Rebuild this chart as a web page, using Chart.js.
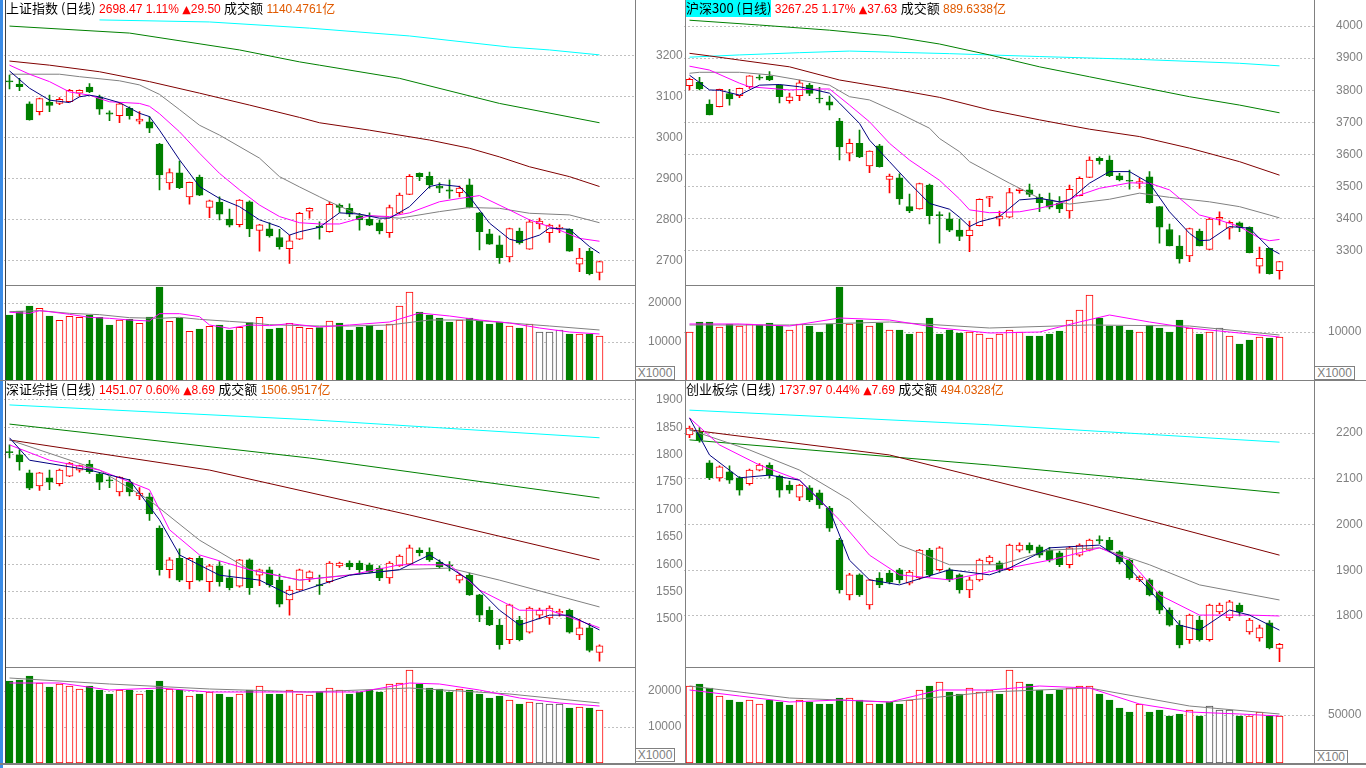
<!DOCTYPE html>
<html>
<head>
<meta charset="utf-8">
<script src="https://cdn.jsdelivr.net/npm/chart.js@4.4.1/dist/chart.umd.min.js"></script>
<style>
  html, body { margin: 0; padding: 0; background: #fff; overflow: hidden; }
  #stage { position: relative; width: 1366px; height: 768px; background: #fff; }
  canvas { position: absolute; }
  .title { position: absolute; font: 12px "Liberation Sans", "Noto Sans CJK SC", sans-serif; white-space: nowrap; line-height: 16px; z-index: 5; color: #000; }
  .title .cn { font-family: "Noto Sans CJK SC", sans-serif; font-size: 13px; }
  .title .tri { font-family: "DejaVu Sans", sans-serif; font-size: 11px; }
  .title .red { color: #ff0000; }
  .title .org { color: #e05a00; }
  .title .hl { background: #00ffff; }
  .sep { position: absolute; background: #808080; z-index: 4; }
  .unit { position: absolute; border: 1px solid #808080; color: #808080; font: 12px "Liberation Sans", sans-serif; line-height: 12px; text-align: center; box-sizing: border-box; z-index: 5; background: #fff; }
</style>
</head>
<body>
<div id="stage"></div>
<script>
// ---- data: 60 trading days per index, 3 empty slots on the right ----
const DAYS = Array.from({ length: 63 }, (_, i) => i + 1);

// 上证指数
const shO = [3138,3130,3082,3063,3086,3083,3087,3108,3123,3099,3060,3053,3071,3040,3038,2984,2890,2914,2856,2904,2830,2843,2802,2788,2844,2774,2778,2757,2730,2753,2821,2784,2771,2836,2828,2810,2802,2793,2769,2816,2862,2913,2906,2882,2873,2866,2885,2817,2766,2739,2710,2773,2729,2790,2769,2779,2777,2692,2724,2672];
const shC = [3135,3124,3043,3095,3078,3093,3115,3115,3111,3069,3057,3082,3053,3045,3023,2909,2915,2878,2891,2860,2846,2814,2787,2848,2778,2788,2761,2735,2749,2816,2828,2781,2838,2830,2814,2800,2787,2773,2830,2860,2906,2905,2885,2877,2870,2877,2830,2771,2741,2708,2779,2744,2795,2797,2787,2782,2724,2707,2669,2698.47];
const shH = [3152,3144,3087,3096,3103,3097,3117,3116,3131,3103,3065,3083,3075,3063,3051,2986,2924,2943,2892,2909,2848,2856,2826,2849,2846,2789,2793,2777,2763,2818,2829,2795,2844,2839,2839,2816,2817,2800,2836,2865,2910,2914,2916,2890,2897,2882,2899,2818,2777,2761,2780,2780,2800,2804,2790,2788,2778,2731,2731,2700];
const shL = [3118,3114,3042,3055,3063,3080,3087,3100,3109,3056,3041,3036,3045,3033,3012,2873,2874,2876,2838,2859,2805,2800,2783,2783,2759,2724,2758,2729,2694,2752,2804,2753,2770,2818,2808,2775,2786,2766,2757,2815,2861,2895,2877,2866,2852,2856,2829,2727,2740,2694,2698,2741,2728,2778,2745,2769,2723,2674,2666,2654];
const shVol = [16923,17949,19230,18632,16667,15556,16581,16325,16923,16325,14359,15641,15812,14786,16410,24100,15299,16154,12735,13333,14017,14359,13077,13761,14957,16325,13333,13590,14786,13761,13504,13675,15385,14872,13077,13846,14359,13077,14615,19231,22821,17692,16923,16154,15128,15641,16154,15385,14615,15128,14103,13590,14615,12564,12564,13077,12051,12051,12051,11538];
const shVolPlain = [53, 54, 55];
const shMa5 = [[0,3162],[2,3120],[4,3091],[6,3085],[7,3099],[8,3103],[9,3099],[11,3085],[13,3059],[14,3051],[15,3018],[17,2946],[19,2881],[21,2852],[23,2832],[25,2800],[27,2783],[28,2763],[29,2771],[31,2782],[33,2817],[35,2814],[37,2804],[38,2804],[40,2832],[42,2881],[43,2886],[45,2881],[46,2856],[48,2792],[50,2753],[51,2747],[53,2763],[54,2780],[56,2777],[58,2735],[59,2719]];
const shMa10 = [[0,3176],[2,3154],[4,3136],[6,3111],[8,3103],[10,3087],[13,3083],[14,3076],[15,3058],[17,3014],[19,2962],[21,2913],[23,2873],[25,2836],[27,2808],[29,2793],[31,2790],[33,2790],[36,2810],[38,2808],[40,2817],[43,2844],[45,2852],[47,2859],[50,2824],[52,2800],[55,2775],[57,2755],[59,2748]];
const shMa20 = [[0,3154],[5,3154],[7,3148],[11,3138],[13,3128],[15,3105],[17,3068],[19,3030],[21,3006],[25,2950],[27,2905],[29,2880],[31,2856],[32,2844],[35,2812],[39,2804],[43,2820],[46,2830],[49,2828],[52,2816],[56,2812],[59,2793]];
const shMa60 = [[0,3186],[4,3176],[9,3160],[14,3136],[19,3108],[24,3079],[29,3049],[31,3036],[36,3018],[42,2994],[46,2974],[49,2953],[52,2929],[56,2905],[59,2881]];
const shMa120 = [[0,3271],[12,3254],[23,3213],[29,3184],[31,3176],[39,3144],[49,3083],[59,3036]];
const shMa250 = [[9,3286],[20,3281],[30,3266],[40,3247],[50,3220],[54,3213],[59,3201]];
const shVolMa5 = [[0,17615],[2,17350],[3,18034],[4,17778],[6,17094],[8,16325],[10,16068],[12,15641],[14,15385],[15,17265],[17,17265],[19,16496],[20,14359],[22,13504],[24,14359],[26,14188],[28,14701],[31,13846],[34,14359],[38,15128],[41,17436],[44,16667],[47,15641],[50,14872],[53,13590],[56,12564],[59,12051]];
const shVolMa10 = [[0,17778],[3,18034],[6,17350],[9,17009],[12,16239],[15,16068],[17,16325],[19,15812],[22,15299],[24,14957],[26,14444],[29,14188],[31,14103],[34,14103],[38,14359],[42,15641],[46,15641],[50,14872],[54,14103],[59,13077]];

// 沪深300
const hsO = [3814,3825,3757,3749,3790,3783,3811,3841,3844,3816,3768,3783,3816,3776,3764,3704,3604,3635,3565,3627,3523,3528,3438,3431,3505,3413,3400,3365,3348,3379,3464,3399,3405,3488,3490,3467,3459,3448,3425,3472,3529,3588,3583,3534,3520,3511,3531,3438,3367,3315,3285,3362,3305,3399,3371,3388,3374,3253,3308,3239];
const hsC = [3834,3804,3723,3803,3773,3806,3845,3838,3832,3780,3780,3823,3790,3773,3754,3624,3635,3593,3611,3562,3533,3462,3425,3510,3410,3410,3365,3345,3365,3461,3469,3409,3482,3493,3476,3450,3436,3431,3492,3526,3583,3581,3534,3521,3517,3516,3450,3374,3316,3275,3370,3316,3399,3405,3389,3376,3295,3277,3229.62,3267.25];
const hsH = [3838,3840,3770,3804,3803,3807,3846,3848,3858,3817,3791,3832,3822,3809,3782,3713,3648,3676,3612,3632,3539,3540,3477,3511,3508,3422,3419,3399,3393,3462,3470,3424,3495,3495,3508,3477,3480,3469,3505,3531,3593,3593,3596,3542,3552,3526,3547,3438,3384,3348,3371,3368,3402,3422,3394,3391,3375,3312,3309,3268];
const hsL = [3801,3801,3723,3748,3754,3777,3806,3832,3830,3761,3760,3768,3783,3761,3739,3583,3580,3590,3544,3561,3481,3445,3419,3430,3384,3324,3360,3332,3298,3378,3438,3378,3404,3480,3469,3422,3431,3419,3402,3471,3528,3570,3531,3518,3492,3495,3449,3324,3316,3262,3267,3316,3303,3381,3337,3360,3294,3231,3228,3212];
const hsVol = [10000,12041,12041,11020,11633,11224,11633,11429,11837,11224,10408,11633,11224,10000,11633,19184,11633,12449,11224,11837,10408,10408,9592,10000,12857,9592,10408,9796,10000,9592,8776,9592,10408,10000,9184,9184,9592,10204,12449,14490,17551,12857,11224,11224,10408,10000,11429,10816,10000,12449,10816,9592,10000,10816,9184,7551,8367,8980,8776,8980];
const hsVolPlain = [53];
const hsMa5 = [[0,3847],[2,3801],[3,3800],[5,3785],[6,3801],[7,3816],[9,3818],[11,3811],[13,3798],[14,3791],[15,3760],[17,3697],[18,3645],[20,3578],[22,3511],[24,3448],[26,3430],[27,3405],[28,3376],[29,3391],[31,3407],[33,3459],[35,3464],[37,3453],[38,3459],[40,3511],[42,3547],[44,3547],[46,3511],[48,3422],[50,3355],[51,3332],[52,3334],[54,3376],[56,3371],[58,3308],[59,3291]];
const hsMa10 = [[0,3875],[2,3863],[5,3822],[6,3811],[10,3801],[13,3804],[14,3804],[16,3754],[18,3702],[20,3635],[22,3583],[25,3520],[27,3462],[28,3428],[30,3419],[33,3422],[35,3433],[37,3448],[39,3474],[41,3495],[44,3512],[46,3511],[48,3490],[51,3412],[53,3396],[55,3376],[57,3340],[58,3332],[59,3336]];
const hsMa20 = [[0,3853],[1,3856],[5,3856],[8,3848],[11,3832],[14,3816],[16,3780],[18,3770],[21,3728],[24,3682],[25,3650],[27,3609],[28,3578],[32,3511],[35,3464],[38,3446],[42,3461],[45,3480],[48,3467],[52,3453],[55,3438],[58,3412],[59,3403]];
const hsMa60 = [[0,3915],[2,3907],[5,3894],[10,3873],[15,3832],[20,3806],[25,3778],[30,3739],[35,3708],[40,3679],[45,3656],[50,3620],[55,3578],[59,3536]];
const hsMa120 = [[0,4018],[7,4003],[14,3987],[20,3969],[25,3944],[30,3910],[35,3873],[40,3842],[45,3811],[50,3780],[55,3754],[59,3730]];
const hsMa250 = [[0,3903],[5,3910],[11,3917],[16,3922],[21,3918],[26,3914],[35,3905],[45,3896],[55,3884],[59,3876]];
const hsVolMa5 = [[0,11633],[5,11633],[10,11224],[15,12857],[20,12449],[25,10816],[30,9796],[35,10000],[39,12041],[42,13469],[46,12041],[50,10816],[54,10000],[59,8980]];
const hsVolMa10 = [[0,11429],[10,11429],[20,12041],[30,10816],[40,11429],[50,11224],[59,9388]];

// 深证综指
const szO = [1806,1800,1767,1743,1758,1747,1761,1772,1783,1765,1754,1732,1750,1725,1723,1666,1590,1611,1568,1611,1568,1597,1575,1560,1608,1580,1590,1571,1535,1553,1575,1563,1568,1597,1602,1602,1599,1593,1575,1597,1600,1626,1622,1604,1599,1571,1580,1544,1516,1489,1462,1498,1476,1507,1502,1511,1516,1471,1484,1439];
const szC = [1804,1787,1739,1767,1750,1772,1785,1780,1769,1750,1752,1759,1732,1730,1692,1590,1608,1571,1611,1571,1597,1568,1557,1608,1557,1590,1562,1527,1553,1590,1586,1561,1602,1602,1595,1590,1586,1575,1602,1615,1630,1621,1608,1595,1597,1580,1544,1507,1489,1453,1526,1462,1520,1516,1520,1514,1476,1484,1442.38,1451.07];
const szH = [1818,1809,1772,1768,1772,1774,1786,1781,1790,1767,1760,1760,1755,1740,1730,1670,1612,1628,1612,1615,1600,1605,1590,1609,1610,1591,1595,1582,1560,1591,1588,1580,1605,1604,1606,1606,1602,1597,1605,1617,1635,1630,1630,1608,1605,1583,1584,1545,1522,1500,1527,1505,1522,1520,1524,1518,1518,1500,1492,1453];
const szL = [1794,1772,1736,1735,1736,1743,1760,1768,1766,1736,1740,1725,1725,1718,1680,1580,1575,1568,1555,1569,1550,1560,1553,1558,1545,1561,1558,1522,1507,1552,1568,1545,1566,1594,1590,1582,1584,1570,1565,1596,1599,1615,1605,1592,1588,1566,1543,1495,1488,1445,1455,1460,1474,1500,1490,1505,1474,1462,1440,1423];
const szVol = [22778,23056,24167,22222,21111,21944,21389,20556,21389,20278,19167,20278,20278,19167,20278,22778,20556,20278,18611,19167,19722,19167,18333,19167,20278,21389,19167,19167,20278,19167,18889,19722,20833,20278,19167,19722,20278,19722,21944,22222,25833,21944,20833,20556,19722,20556,20278,19167,18056,18611,17500,16389,16944,16667,16389,16389,15278,15556,15278,14722];
const szVolPlain = [53, 54, 55];
const szMa5 = [[0,1831],[2,1790],[8,1772],[12,1754],[15,1681],[17,1617],[21,1580],[25,1571],[28,1544],[31,1562],[34,1580],[39,1590],[42,1617],[46,1571],[49,1516],[51,1489],[54,1507],[56,1507],[59,1480]];
const szMa10 = [[0,1818],[4,1790],[9,1772],[14,1736],[16,1663],[19,1617],[24,1590],[29,1571],[34,1580],[39,1599],[44,1599],[47,1553],[51,1516],[54,1516],[59,1484]];
const szMa20 = [[0,1827],[9,1772],[14,1717],[19,1644],[24,1590],[29,1571],[39,1590],[44,1593],[49,1571],[59,1522]];
const szMa60 = [[0,1827],[20,1772],[40,1690],[59,1608]];
const szMa120 = [[0,1856],[30,1794],[59,1721]];
const szMa250 = [[0,1891],[30,1864],[59,1831]];
const szVolMa5 = [[0,22222],[5,22222],[10,20278],[15,20833],[20,19722],[25,19722],[30,19722],[35,19722],[40,22222],[43,21944],[47,20278],[51,18056],[55,16667],[59,15833]];
const szVolMa10 = [[0,23611],[10,21944],[20,20556],[30,19722],[40,20833],[50,19167],[59,16667]];

// 创业板综
const cyO = [2196,2202,2135,2102,2115,2102,2089,2119,2130,2106,2086,2060,2080,2069,2036,1966,1846,1890,1824,1883,1894,1901,1872,1883,1944,1901,1901,1890,1857,1879,1918,1916,1901,1944,1955,1951,1944,1938,1912,1933,1944,1967,1966,1940,1922,1879,1879,1853,1813,1780,1748,1791,1748,1809,1796,1824,1765,1752,1785,1729];
const cyC = [2211,2185,2102,2126,2097,2075,2119,2130,2108,2075,2075,2086,2054,2043,1992,1857,1890,1846,1879,1868,1874,1879,1896,1944,1890,1949,1879,1857,1879,1922,1929,1901,1955,1955,1944,1933,1922,1912,1949,1955,1966,1964,1944,1918,1883,1885,1846,1813,1780,1737,1802,1748,1824,1824,1831,1809,1791,1774,1730.28,1737.97];
const cyH = [2215,2212,2140,2128,2128,2105,2121,2133,2135,2108,2095,2088,2085,2075,2040,1970,1893,1892,1880,1895,1900,1904,1900,1946,1948,1952,1905,1892,1885,1925,1932,1920,1957,1960,1960,1955,1950,1942,1952,1958,1968,1975,1972,1943,1925,1888,1882,1855,1818,1790,1804,1800,1826,1828,1834,1828,1795,1780,1790,1740];
const cyL = [2190,2180,2098,2095,2090,2064,2086,2117,2102,2060,2068,2052,2050,2035,1985,1850,1835,1843,1815,1862,1870,1872,1868,1880,1886,1898,1875,1850,1840,1876,1912,1895,1899,1940,1938,1928,1918,1908,1905,1930,1942,1958,1940,1914,1880,1875,1844,1805,1778,1730,1740,1745,1745,1805,1790,1800,1760,1745,1728,1700];
const cyVol = [80208,82292,78125,69792,65625,63542,65625,61458,65625,63542,60417,65625,63542,61458,61458,67708,67708,65625,61458,61458,63542,61458,65625,76042,80208,84375,73958,71875,78125,73958,76042,71875,96875,84375,82292,76042,71875,76042,78125,80208,80208,71875,65625,57292,53125,61458,53125,55208,48958,51042,55208,48958,59375,55208,55208,48958,48958,53125,48958,48958];
const cyVolPlain = [52, 53, 54];
const cyMa5 = [[0,2233],[2,2152],[5,2102],[8,2108],[11,2097],[14,2032],[16,1922],[18,1879],[21,1868],[26,1901],[30,1890],[32,1905],[36,1949],[41,1955],[43,1927],[46,1857],[49,1780],[51,1769],[54,1813],[56,1802],[59,1769]];
const cyMa10 = [[0,2233],[3,2174],[7,2130],[11,2097],[15,2010],[18,1933],[21,1890],[26,1879],[31,1901],[36,1922],[41,1949],[44,1922],[47,1846],[51,1802],[56,1802],[59,1800]];
const cyMa20 = [[0,2207],[6,2163],[11,2119],[16,2054],[21,1955],[26,1912],[31,1912],[36,1944],[41,1949],[46,1912],[51,1868],[59,1835]];
const cyMa60 = [[0,2207],[20,2152],[40,2043],[59,1933]];
const cyMa120 = [[0,2185],[30,2130],[59,2069]];
const cyMa250 = [[0,2250],[30,2218],[59,2180]];
const cyVolMa5 = [[0,76042],[5,69792],[10,63542],[15,65625],[20,63542],[25,76042],[30,76042],[35,80208],[40,78125],[45,61458],[50,53125],[55,51042],[59,48958]];
const cyVolMa10 = [[0,80208],[10,67708],[20,63542],[30,73958],[40,78125],[50,59375],[59,51042]];

// ---- drawing ----
const RED = '#ff0000';
const GREEN = '#008000';
const GRID = '#808080';
const PLAIN = '#505050';
const MA_COLORS = ['#000080', '#ff00ff', '#808080', '#800000', '#008000', '#00ffff'];
const stage = document.getElementById('stage');

function sparse(pairs) {
  const out = new Array(60).fill(null);
  pairs.forEach(([i, v]) => { out[i] = v; });
  return out;
}

function makeCanvas(left, top, w, h) {
  const cv = document.createElement('canvas');
  cv.width = w;
  cv.height = h;
  cv.style.left = left + 'px';
  cv.style.top = top + 'px';
  cv.style.width = w + 'px';
  cv.style.height = h + 'px';
  stage.appendChild(cv);
  return cv;
}

function scales(min, max, tickVals, axisW, labelPad) {
  return {
    x: { display: false, offset: true },
    y: {
      position: 'right',
      min: min,
      max: max,
      afterFit: (s) => {
        // fixed axis column, and no extra room for the labels above/below the plot
        s.width = axisW;
        s.paddingTop = 0;
        s.paddingBottom = 0;
      },
      afterBuildTicks: (s) => { s.ticks = tickVals.map((v) => ({ value: v })); },
      grid: { color: GRID, lineWidth: 1, drawTicks: false },
      border: { display: false, dash: [1, 3] },
      ticks: {
        color: GRID,
        font: { family: 'Liberation Sans', size: 12 },
        padding: labelPad,
        crossAlign: 'near',
        autoSkip: false,
        callback: (v) => String(v)
      }
    }
  };
}

function baseOptions(padL, min, max, tickVals, axisW, labelPad) {
  return {
    responsive: false,
    animation: false,
    devicePixelRatio: 1,
    events: [],
    layout: { padding: { left: padL, right: 0, top: 0, bottom: 0 } },
    plugins: { legend: { display: false }, tooltip: { enabled: false } },
    scales: scales(min, max, tickVals, axisW, labelPad)
  };
}

function lineSet(pairs, color) {
  return {
    type: 'line',
    data: sparse(pairs),
    borderColor: color,
    borderWidth: 1,
    pointRadius: 0,
    spanGaps: true,
    tension: 0,
    order: 1
  };
}

function pricePanel(p) {
  const up = p.o.map((v, i) => p.c[i] >= v);
  new Chart(makeCanvas(p.left, p.top, p.width, p.height), {
    type: 'bar',
    data: {
      labels: DAYS,
      datasets: [
        ...p.mas.map((m, k) => lineSet(m, MA_COLORS[k])),
        {
          data: p.o.map((v, i) => [v, p.c[i]]),
          backgroundColor: up.map((u) => (u ? '#ffffff' : GREEN)),
          borderColor: up.map((u) => (u ? RED : GREEN)),
          borderWidth: 1,
          borderSkipped: false,
          barThickness: 7,
          grouped: false,
          order: 5
        },
        {
          data: p.l.map((v, i) => [v, p.h[i]]),
          backgroundColor: up.map((u) => (u ? RED : GREEN)),
          barThickness: 1,
          grouped: false,
          order: 6
        }
      ]
    },
    options: baseOptions(p.padL, p.min, p.max, p.ticks, p.axisW, 21.5)
  });
}

function volumePanel(p) {
  const up = p.o.map((v, i) => p.c[i] >= v);
  const edge = up.map((u, i) => (p.plain.includes(i) ? PLAIN : (u ? RED : GREEN)));
  new Chart(makeCanvas(p.left, p.top, p.width, p.height), {
    type: 'bar',
    data: {
      labels: DAYS,
      datasets: [
        lineSet(p.ma5, '#ff00ff'),
        lineSet(p.ma10, '#808080'),
        {
          data: p.vol,
          backgroundColor: up.map((u, i) => (u || p.plain.includes(i) ? '#ffffff' : GREEN)),
          borderColor: edge,
          borderWidth: 1,
          borderSkipped: false,
          barThickness: 7,
          grouped: false,
          order: 5
        }
      ]
    },
    options: baseOptions(p.padL, 0, p.max, p.ticks, p.axisW, 13.5)
  });
}

// left column: canvas 0..685, plot 4.5..634.5 ; right column: canvas 684..1366, plot 684.5..1314.5
pricePanel({ left: 0, top: 0, width: 685, height: 286, padL: 4.5, axisW: 50.5,
  min: 2639.2, max: 3334.4, ticks: [2700, 2800, 2900, 3000, 3100, 3200],
  o: shO, c: shC, h: shH, l: shL, mas: [shMa5, shMa10, shMa20, shMa60, shMa120, shMa250] });
volumePanel({ left: 0, top: 286, width: 685, height: 95, padL: 4.5, axisW: 50.5,
  max: 24359, ticks: [10000, 20000], o: shO, c: shC, vol: shVol, plain: shVolPlain, ma5: shVolMa5, ma10: shVolMa10 });

pricePanel({ left: 684, top: 0, width: 682, height: 286, padL: 0.5, axisW: 51.5,
  min: 3191.1, max: 4080.9, ticks: [3300, 3400, 3500, 3600, 3700, 3800, 3900, 4000],
  o: hsO, c: hsC, h: hsH, l: hsL, mas: [hsMa5, hsMa10, hsMa20, hsMa60, hsMa120, hsMa250] });
volumePanel({ left: 684, top: 286, width: 682, height: 95, padL: 0.5, axisW: 51.5,
  max: 19388, ticks: [10000], o: hsO, c: hsC, vol: hsVol, plain: hsVolPlain, ma5: hsVolMa5, ma10: hsVolMa10 });

pricePanel({ left: 0, top: 381, width: 685, height: 286, padL: 4.5, axisW: 50.5,
  min: 1412.3, max: 1934.7, ticks: [1500, 1550, 1600, 1650, 1700, 1750, 1800, 1850, 1900],
  o: szO, c: szC, h: szH, l: szL, mas: [szMa5, szMa10, szMa20, szMa60, szMa120, szMa250] });
volumePanel({ left: 0, top: 667, width: 685, height: 96, padL: 4.5, axisW: 50.5,
  max: 26667, ticks: [10000, 20000], o: szO, c: szC, vol: szVol, plain: szVolPlain, ma5: szVolMa5, ma10: szVolMa10 });

pricePanel({ left: 684, top: 381, width: 682, height: 286, padL: 0.5, axisW: 51.5,
  min: 1688.5, max: 2313.7, ticks: [1800, 1900, 2000, 2100, 2200],
  o: cyO, c: cyC, h: cyH, l: cyL, mas: [cyMa5, cyMa10, cyMa20, cyMa60, cyMa120, cyMa250] });
volumePanel({ left: 684, top: 667, width: 682, height: 96, padL: 0.5, axisW: 51.5,
  max: 100000, ticks: [50000], o: cyO, c: cyC, vol: cyVol, plain: cyVolPlain, ma5: cyVolMa5, ma10: cyVolMa10 });

// ---- frame lines, unit boxes, titles ----
function sep(x, y, w, h, color) {
  const d = document.createElement('div');
  d.className = 'sep';
  d.style.cssText = `left:${x}px;top:${y}px;width:${w}px;height:${h}px;` + (color ? `background:${color}` : '');
  stage.appendChild(d);
}
sep(0, 0, 3, 768, '#3c8ce6');
sep(5, 0, 1, 763, '#404040');
sep(635, 0, 1, 763);
sep(685, 0, 1, 763);
sep(1314, 0, 1, 763);
sep(6, 285, 629, 1);
sep(686, 285, 628, 1);
sep(0, 380, 1366, 1);
sep(6, 667, 629, 1);
sep(686, 667, 628, 1);
sep(0, 763, 1366, 2);

function unitBox(text, x, y, w) {
  const d = document.createElement('div');
  d.className = 'unit';
  d.style.cssText = `left:${x}px;top:${y}px;width:${w}px;height:14px;`;
  d.textContent = text;
  stage.appendChild(d);
}
unitBox('X1000', 635, 366, 40);
unitBox('X1000', 1314, 366, 41);
unitBox('X1000', 635, 748, 40);
unitBox('X100', 1314, 750, 34);

function title(x, y, html) {
  const d = document.createElement('div');
  d.className = 'title';
  d.style.left = x + 'px';
  d.style.top = y + 'px';
  d.innerHTML = html;
  stage.appendChild(d);
}
title(6, 0, '<span class="cn">上证指数 (日线)</span> <span class="red">2698.47 1.11% <span class="tri">▲</span>29.50</span> <span class="cn">成交额</span> <span class="org">1140.4761<span class="cn">亿</span></span>');
title(686, 0, '<span class="cn hl">沪深300 (日线)</span> <span class="red">3267.25 1.17% <span class="tri">▲</span>37.63</span> <span class="cn">成交额</span> <span class="org">889.6338<span class="cn">亿</span></span>');
title(6, 381, '<span class="cn">深证综指 (日线)</span> <span class="red">1451.07 0.60% <span class="tri">▲</span>8.69</span> <span class="cn">成交额</span> <span class="org">1506.9517<span class="cn">亿</span></span>');
title(686, 381, '<span class="cn">创业板综 (日线)</span> <span class="red">1737.97 0.44% <span class="tri">▲</span>7.69</span> <span class="cn">成交额</span> <span class="org">494.0328<span class="cn">亿</span></span>');
</script>
</body>
</html>
